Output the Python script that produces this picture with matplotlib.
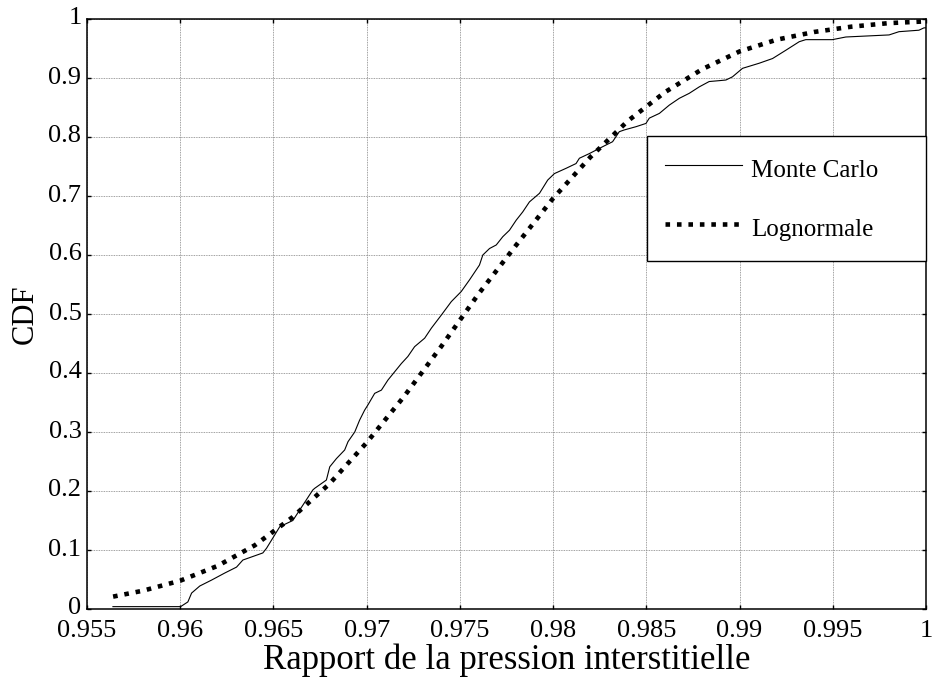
import matplotlib
matplotlib.use("Agg")
import matplotlib.pyplot as plt
import matplotlib.transforms as mtransforms

# Empirical CDF of the Monte Carlo samples (breakpoints of the staircase)
mc_x = [0.95639, 0.96002, 0.96041, 0.96061, 0.96105, 0.96168, 0.96239, 0.96302,
        0.96336, 0.96443, 0.96463, 0.96534, 0.96604, 0.96711, 0.96721, 0.96784,
        0.96802, 0.96838, 0.96882, 0.96900, 0.96936, 0.96962, 0.96989, 0.97007,
        0.97043, 0.97079, 0.97114, 0.97150, 0.97186, 0.97221, 0.97257, 0.97311,
        0.97347, 0.97400, 0.97454, 0.97507, 0.97552, 0.97605, 0.97623, 0.97659,
        0.97695, 0.97730, 0.97766, 0.97802, 0.97837, 0.97873, 0.97927, 0.97971,
        0.98007, 0.98070, 0.98123, 0.98141, 0.98195, 0.98266, 0.98319, 0.98355,
        0.98382, 0.98445, 0.98498, 0.98516, 0.98570, 0.98623, 0.98677, 0.98730,
        0.98784, 0.98837, 0.98891, 0.98927, 0.98962, 0.99016, 0.99105, 0.99177,
        0.99248, 0.99320, 0.99355, 0.99498, 0.99570, 0.99802, 0.99855, 0.99962,
        0.99989, 1.00000]
mc_y = [0.004, 0.004, 0.012, 0.027, 0.039, 0.049, 0.061, 0.071,
        0.083, 0.095, 0.103, 0.1395, 0.150, 0.2017, 0.2045, 0.2186,
        0.241, 0.255, 0.2695, 0.2836, 0.300, 0.320, 0.337, 0.346,
        0.3655, 0.371, 0.388, 0.402, 0.416, 0.428, 0.4446, 0.459,
        0.476, 0.498, 0.521, 0.538, 0.558, 0.583, 0.600, 0.611,
        0.617, 0.631, 0.642, 0.659, 0.673, 0.690, 0.7046, 0.727,
        0.738, 0.747, 0.755, 0.764, 0.772, 0.7836, 0.792, 0.809,
        0.812, 0.8175, 0.823, 0.832, 0.840, 0.854, 0.8656, 0.874,
        0.885, 0.894, 0.8955, 0.8966, 0.902, 0.9164, 0.925, 0.933,
        0.947, 0.9615, 0.965, 0.965, 0.9695, 0.973, 0.9785, 0.981,
        0.985, 0.985]

# Fitted lognormal CDF
ln_x = [0.9564, 0.958, 0.960, 0.962, 0.964, 0.966, 0.968, 0.970, 0.972, 0.974,
        0.976, 0.978, 0.980, 0.982, 0.984, 0.986, 0.988, 0.990, 0.992, 0.994,
        0.996, 0.998, 1.000]
ln_y = [0.021, 0.031, 0.048, 0.073, 0.108, 0.155, 0.212, 0.282, 0.360, 0.445,
        0.534, 0.616, 0.696, 0.766, 0.827, 0.876, 0.915, 0.945, 0.965, 0.978,
        0.987, 0.993, 0.996]

x_ticks = [0.955, 0.96, 0.965, 0.97, 0.975, 0.98, 0.985, 0.99, 0.995, 1.0]
x_tick_labels = ["0.955", "0.96", "0.965", "0.97", "0.975", "0.98", "0.985",
                 "0.99", "0.995", "1"]
y_ticks = [0, 0.1, 0.2, 0.3, 0.4, 0.5, 0.6, 0.7, 0.8, 0.9, 1.0]
y_tick_labels = ["0", "0.1", "0.2", "0.3", "0.4", "0.5", "0.6", "0.7", "0.8",
                 "0.9", "1"]

plt.rcParams["font.family"] = ["Liberation Serif", "DejaVu Serif"]

fig = plt.figure(figsize=(9.33, 6.91), dpi=100)
ax = fig.add_axes([87 / 933, 82 / 691, 839 / 933, 590 / 691])

ax.plot(mc_x, mc_y, color="black", lw=0.8, label="Monte Carlo")
ax.plot(ln_x, ln_y, color="black", lw=3.3, linestyle=(0, (1, 1.5)),
        dash_capstyle="butt", label="Lognormale")

ax.set_xlim(0.955, 1.0)
ax.set_ylim(0, 1)
ax.set_xticks(x_ticks)
ax.set_xticklabels(x_tick_labels)
ax.set_yticks(y_ticks)
ax.set_yticklabels(y_tick_labels)

ax.grid(True, color="0.5", linestyle=(0, (1, 1)), lw=0.6)
ax.set_axisbelow(True)
ax.tick_params(direction="in", top=True, right=True, length=3, width=1,
               labelsize=19)
ax.tick_params(axis="x", pad=8)
ax.tick_params(axis="y", pad=4)
for sp in ax.spines.values():
    sp.set_linewidth(1.1)
    sp.set_color("black")

# nudge the y tick labels slightly upward
lift = mtransforms.ScaledTranslation(0, 3 / 100, fig.dpi_scale_trans)
for lbl in ax.get_yticklabels():
    lbl.set_transform(lbl.get_transform() + lift)

ax.set_xlabel("Rapport de la pression interstitielle", fontsize=25, labelpad=1)
ax.set_ylabel("CDF", fontsize=22, labelpad=6)

leg = ax.legend(loc="upper left", bbox_to_anchor=(0.6675, 0.593, 0.3325, 0.209),
                mode="expand", fontsize=18, frameon=True, fancybox=False,
                edgecolor="black", framealpha=1, handlelength=3.1,
                handleheight=1.5, handletextpad=0.35, labelspacing=1.15,
                borderpad=0.7, borderaxespad=0)
leg.get_frame().set_linewidth(1.0)

fig.savefig("out.png", dpi=100)
